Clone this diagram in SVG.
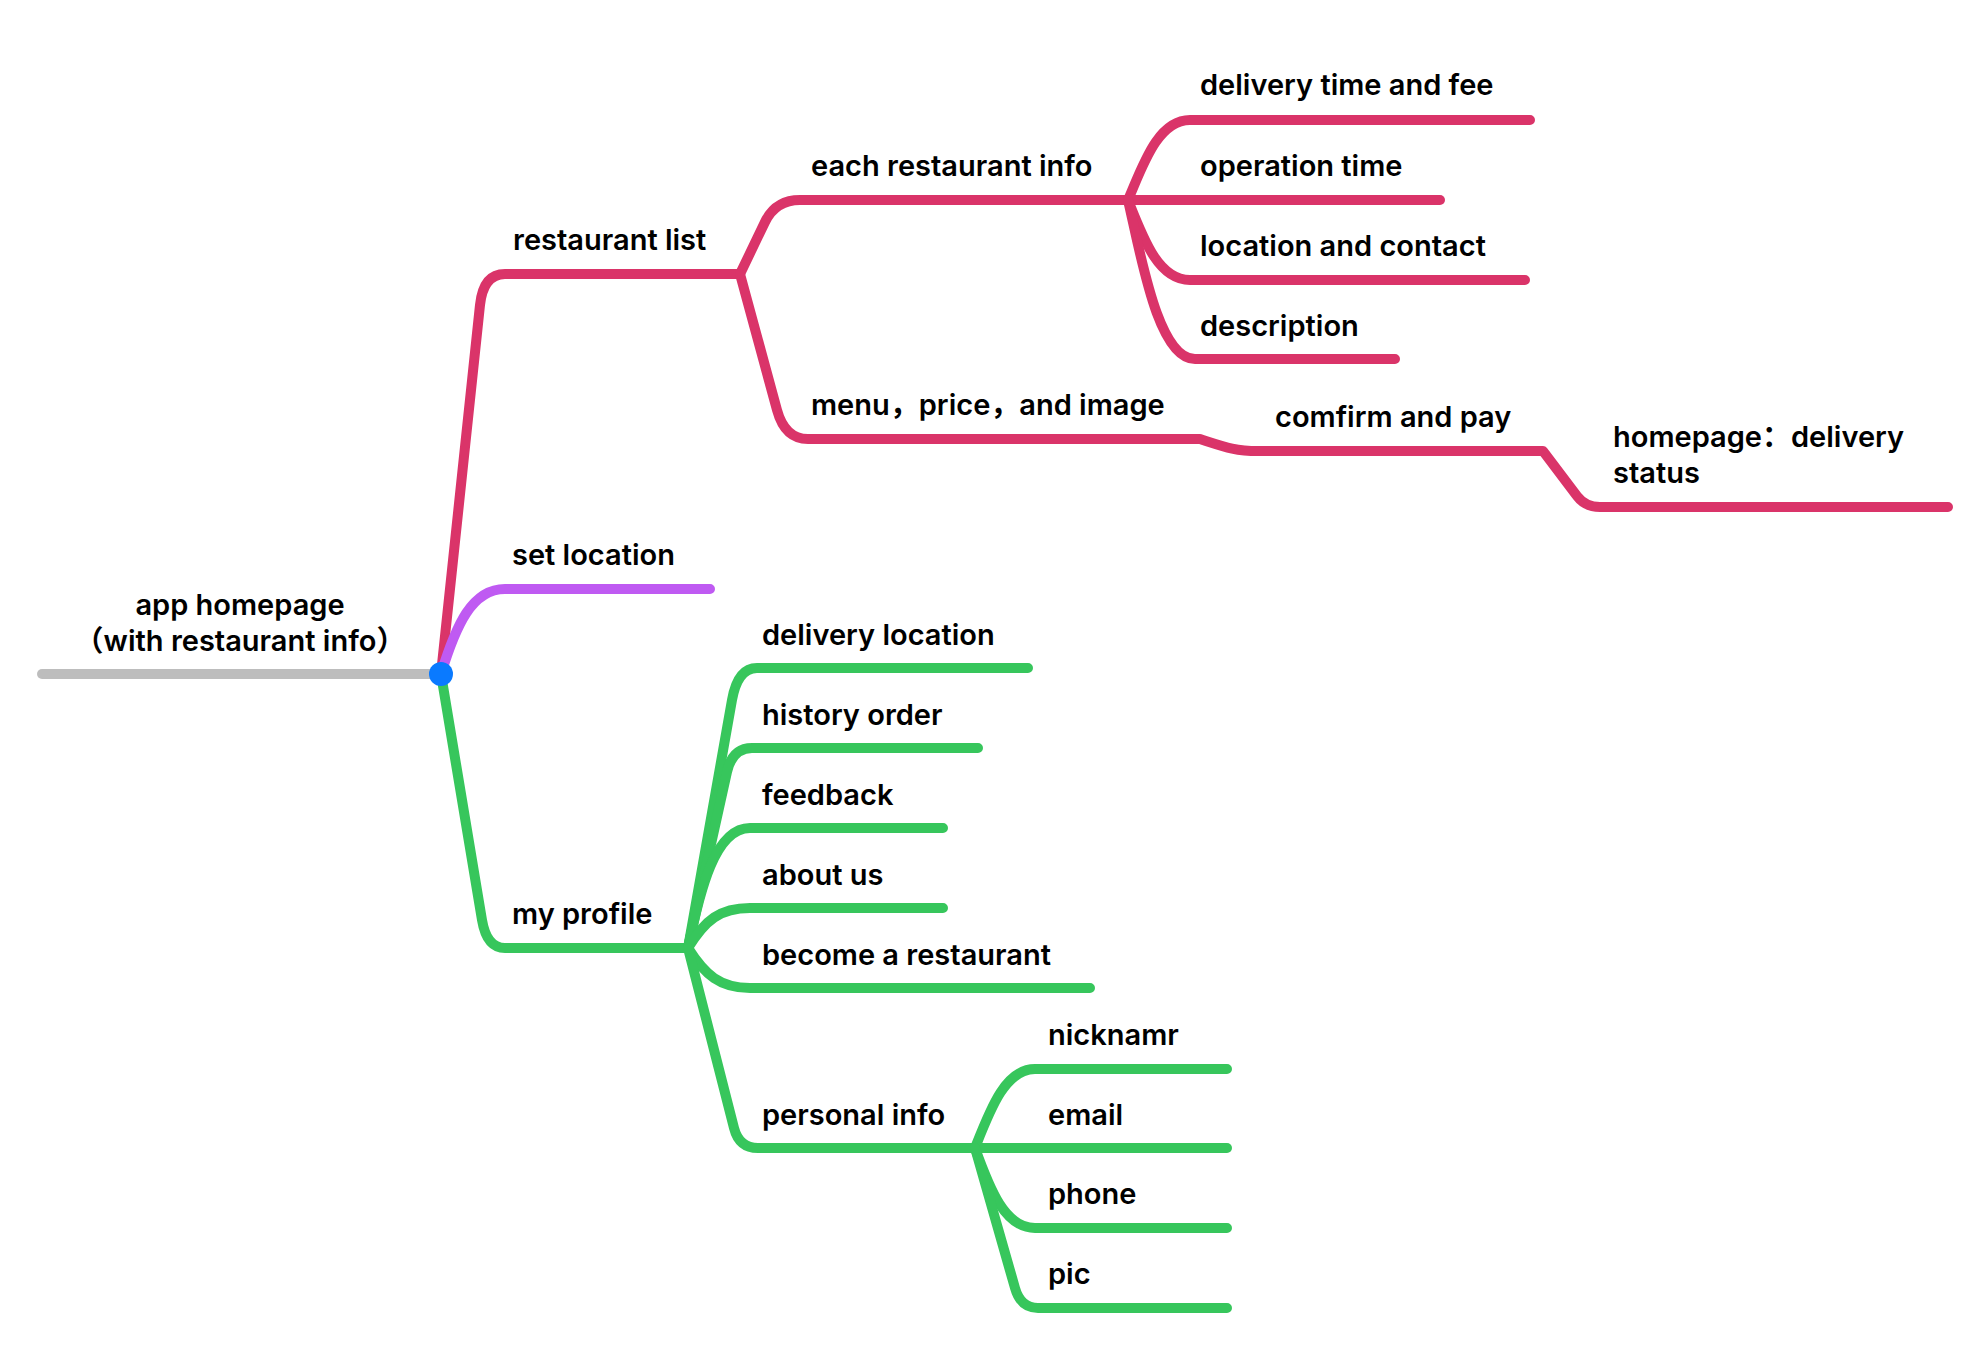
<svg xmlns="http://www.w3.org/2000/svg" width="1986" height="1349" viewBox="0 0 1986 1349">
  <style>
    .t { font-family: Inter, "Noto Sans", "Noto Sans CJK SC", sans-serif; font-size: 29px; font-weight: 600; fill: #000; }
    .ln { fill: none; stroke-width: 10; stroke-linecap: round; stroke-linejoin: round; }
    .pink { stroke: #DA3469; }
    .purple { stroke: #BF5AF2; }
    .green { stroke: #37C65C; }
    .gray { stroke: #BDBDBD; }
  </style>
  <rect width="1986" height="1349" fill="#fff"/>

  <g id="connectors">
    <!-- root stem -->
    <path class="ln gray" d="M42,674 L441,674"/>
    <!-- restaurant list branch -->
    <path class="ln pink" d="M441,674 L480,305 Q483.3,274 505,274 L740,274"/>
    <path class="ln pink" d="M740,274 L765,222 Q775.6,200 800,200 L1128,200"/>
    <path class="ln pink" d="M740,274 L777,410 Q784.9,439 808,439 L1200,439 C1225,447 1235,451 1258,451 L1543,451 L1577,496 Q1585.3,507 1600,507 L1948,507"/>
    <path class="ln pink" d="M1128,200 C1142,168 1157,120 1190,120 L1530,120"/>
    <path class="ln pink" d="M1128,200 L1440,200"/>
    <path class="ln pink" d="M1128,200 C1143,238 1158,280 1190,280 L1525,280"/>
    <path class="ln pink" d="M1128,200 C1141,256 1158,359 1195,359 L1395,359"/>
    <!-- set location branch -->
    <path class="ln purple" d="M441,674 C456,625 472,589 505,589 L710,589"/>
    <!-- my profile branch -->
    <path class="ln green" d="M441,674 L482,920 Q486.7,948 505,948 L688,948"/>
    <path class="ln green" d="M688,948 L732,700 Q737.7,668 757,668 L1028,668"/>
    <path class="ln green" d="M688,948 L727,772 Q732.3,748 752,748 L978,748"/>
    <path class="ln green" d="M688,948 C700,890 715,828 750,828 L943,828"/>
    <path class="ln green" d="M688,948 C705,920 720,908 750,908 L943,908"/>
    <path class="ln green" d="M688,948 C705,975 720,988 750,988 L1090,988"/>
    <path class="ln green" d="M688,948 L734,1128 Q739.1,1148 758,1148 L975,1148"/>
    <path class="ln green" d="M975,1148 C990,1110 1005,1069 1035,1069 L1227,1069"/>
    <path class="ln green" d="M975,1148 L1227,1148"/>
    <path class="ln green" d="M975,1148 C990,1190 1005,1228 1035,1228 L1227,1228"/>
    <path class="ln green" d="M975,1148 L1015,1288 Q1020.7,1308 1038,1308 L1227,1308"/>
  </g>

  <g id="root">
    <text class="t" x="240" y="615" text-anchor="middle">app homepage</text>
    <text class="t" x="240" y="651" text-anchor="middle">（with restaurant info）</text>
    <circle cx="441" cy="674" r="12" fill="#0A7AFF"/>
  </g>

  <g id="restaurant-list"><text class="t" x="513" y="250">restaurant list</text></g>
  <g id="each-restaurant-info"><text class="t" x="811" y="176">each restaurant info</text></g>
  <g id="delivery-time-fee"><text class="t" x="1200" y="95">delivery time and fee</text></g>
  <g id="operation-time"><text class="t" x="1200" y="176">operation time</text></g>
  <g id="location-contact"><text class="t" x="1200" y="256">location and contact</text></g>
  <g id="description"><text class="t" x="1200" y="336">description</text></g>
  <g id="menu-price-image"><text class="t" x="811" y="415">menu，price，and image</text></g>
  <g id="confirm-pay"><text class="t" x="1275" y="427">comfirm and pay</text></g>
  <g id="delivery-status">
    <text class="t" x="1613" y="447">homepage：delivery</text>
    <text class="t" x="1613" y="483">status</text>
  </g>

  <g id="set-location"><text class="t" x="512" y="565">set location</text></g>

  <g id="my-profile"><text class="t" x="512" y="924">my profile</text></g>
  <g id="delivery-location"><text class="t" x="762" y="645">delivery location</text></g>
  <g id="history-order"><text class="t" x="762" y="725">history order</text></g>
  <g id="feedback"><text class="t" x="762" y="805">feedback</text></g>
  <g id="about-us"><text class="t" x="762" y="885">about us</text></g>
  <g id="become-restaurant"><text class="t" x="762" y="965">become a restaurant</text></g>
  <g id="personal-info"><text class="t" x="762" y="1125">personal info</text></g>
  <g id="nickname"><text class="t" x="1048" y="1045">nicknamr</text></g>
  <g id="email"><text class="t" x="1048" y="1125">email</text></g>
  <g id="phone"><text class="t" x="1048" y="1204">phone</text></g>
  <g id="pic"><text class="t" x="1048" y="1284">pic</text></g>
</svg>
